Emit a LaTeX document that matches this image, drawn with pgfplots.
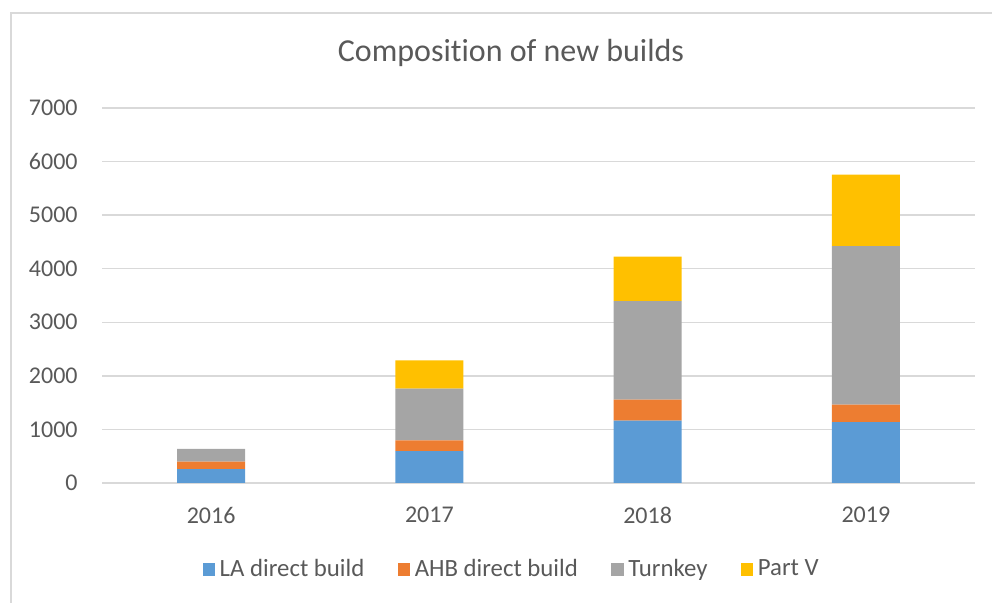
\documentclass[border=0pt]{standalone}
\usepackage{pgfplots}
\pgfplotsset{compat=1.18}
\usepackage{fontspec}
\setmainfont{Carlito}[Ligatures=NoCommon]
\definecolor{txt}{HTML}{595959}
\definecolor{cblue}{HTML}{5B9BD5}
\definecolor{corange}{HTML}{ED7D31}
\definecolor{cgray}{HTML}{A5A5A5}
\definecolor{cyellow}{HTML}{FFC000}
\definecolor{gridc}{HTML}{D9D9D9}
\pgfplotsset{sqleg/.style={legend image code/.code={\fill[##1] (0pt,-3.1pt) rectangle (6.2pt,3.1pt);}}}
\begin{document}
\begin{tikzpicture}[x=1pt,y=1pt]
\path[use as bounding box] (0,0) rectangle (496,301.5);
\draw[gridc, line width=0.7pt] (5.5,0) -- (5.5,295) -- (496,295);
\node[anchor=base, font=\fontsize{16}{19}\selectfont, text=txt] at (255.5,270.6) {Composition of new builds};
\begin{axis}[
  at={(51pt,60pt)}, anchor=south west,
  scale only axis, width=436.5pt, height=187.5pt,
  ybar stacked, bar width=34pt,
  xmin=-0.5, xmax=3.5, ymin=0, ymax=7000,
  xtick={0,1,2,3}, xticklabels={2016,2017,2018,2019},
  ytick={0,1000,...,7000},
  ymajorgrids, grid style={gridc, line width=0.7pt},
  axis line style={draw=none},
  major tick length=0pt,
  /pgf/number format/assume math mode=true,
  scaled y ticks=false,
  yticklabel style={/pgf/number format/1000 sep={}},
  tick label style={font=\fontsize{12}{14}\selectfont, text=txt, inner sep=0pt},
  yticklabel style={anchor=east, xshift=-12pt},
  xticklabel style={anchor=north, yshift=-12pt},
  legend columns=4,
  legend style={at={(0.4708,-0.2307)}, anchor=center, draw=none, fill=none,
    font=\fontsize{12.4}{14}\selectfont, text=txt,
    /tikz/every even column/.append style={column sep=14.5pt},
    nodes={inner xsep=2.25pt, inner ysep=1pt}},
]
\addplot[fill=cblue, draw=none, sqleg] coordinates {(0,260) (1,595) (2,1165) (3,1135)};
\addplot[fill=corange, draw=none, sqleg] coordinates {(0,140) (1,200) (2,390) (3,330)};
\addplot[fill=cgray, draw=none, sqleg] coordinates {(0,235) (1,965) (2,1840) (3,2955)};
\addplot[fill=cyellow, draw=none, sqleg] coordinates {(0,0) (1,530) (2,830) (3,1335)};
\legend{LA direct build, AHB direct build, Turnkey, Part V}
\end{axis}
\end{tikzpicture}
\end{document}
